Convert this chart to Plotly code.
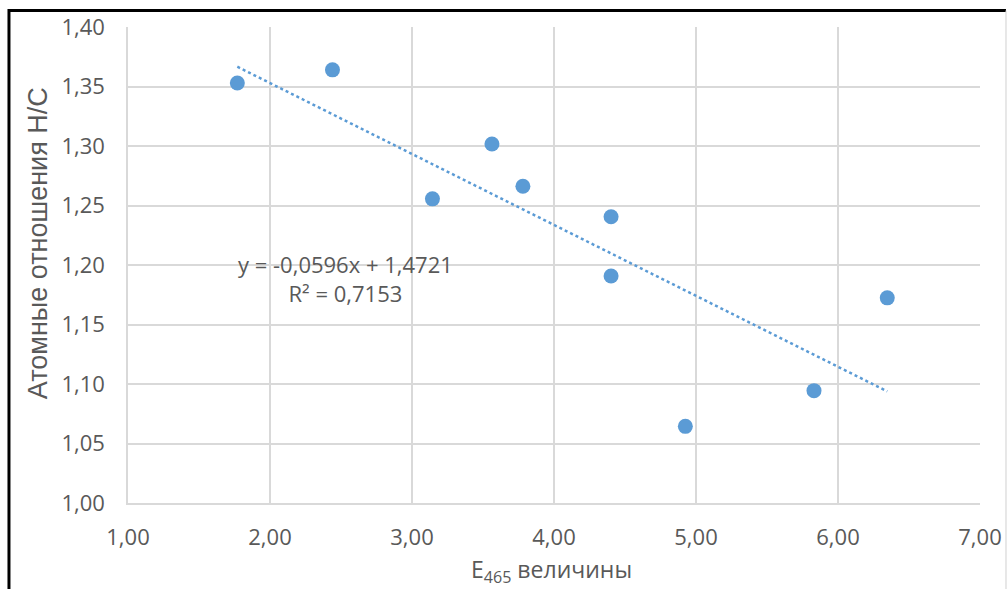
import numpy as np
import plotly.graph_objects as go

# Data
e465 = [1.77, 2.44, 3.144, 3.563, 3.781, 4.402, 4.402, 4.925, 5.831, 6.347]
hc_ratio = [1.353, 1.364, 1.2556, 1.3017, 1.2662, 1.2405, 1.1908, 1.0644, 1.0944, 1.1724]

trend_slope = -0.0596
trend_intercept = 1.4721
r_squared = 0.7153

x_ticks = [1, 2, 3, 4, 5, 6, 7]
y_ticks = [1.00, 1.05, 1.10, 1.15, 1.20, 1.25, 1.30, 1.35, 1.40]

x_title = "E<sub>465</sub> величины"
y_title = "Атомные отношения Н/С"

blue = "#5B9BD5"
grid = "#D9D9D9"
tick_color = "#595959"

trend_x = np.array([min(e465), max(e465)])
trend_y = trend_slope * trend_x + trend_intercept

fig = go.Figure()
fig.add_trace(go.Scatter(
    x=trend_x, y=trend_y, mode="lines",
    line=dict(color=blue, width=2.5, dash="dot"),
    hoverinfo="skip", showlegend=False,
))
fig.add_trace(go.Scatter(
    x=e465, y=hc_ratio, mode="markers",
    marker=dict(color=blue, size=15, line=dict(width=0)),
    showlegend=False,
))

eq_text = ("y = -0,0596x + 1,4721<br>R² = " + f"{r_squared:.4f}".replace(".", ","))
fig.add_annotation(
    x=2.53, y=1.1887, xref="x", yref="y", text=eq_text, showarrow=False,
    font=dict(family="Open Sans", size=22, color=tick_color), align="center",
)

# Axis titles
fig.add_annotation(
    x=-0.1056, y=0.546, xref="paper", yref="paper", text=y_title,
    textangle=-90, showarrow=False, xanchor="center", yanchor="middle",
    font=dict(family="Liberation Sans", size=27, color=tick_color),
)
fig.add_annotation(
    x=0.497, y=-0.141, xref="paper", yref="paper", text=x_title,
    showarrow=False, xanchor="center", yanchor="middle", borderpad=0,
    font=dict(family="Open Sans", size=23, color=tick_color),
)

fig.update_layout(
    width=1007, height=589,
    margin=dict(l=128, r=27, t=27, b=86),
    paper_bgcolor="white", plot_bgcolor="white",
    separators=", ",
    font=dict(family="Open Sans", color=tick_color),
    xaxis=dict(
        range=[1, 7], tickvals=x_ticks, tickformat=".2f", automargin=False,
        showgrid=True, gridcolor=grid, gridwidth=1.5,
        showline=True, linecolor=grid, linewidth=1.5,
        zeroline=False, ticks="", ticklabelstandoff=14,
        tickfont=dict(size=22, color=tick_color),
    ),
    yaxis=dict(
        range=[1.0, 1.4], tickvals=y_ticks, tickformat=".2f", automargin=False,
        showgrid=True, gridcolor=grid, gridwidth=1.5,
        showline=True, linecolor=grid, linewidth=1.5,
        zeroline=False, ticks="", ticklabelstandoff=17,
        tickfont=dict(size=22, color=tick_color),
    ),
)

# Outer frame of the chart image
fig.add_shape(type="line", xref="paper", yref="paper",
              x0=-0.1397, x1=1.0305, y0=1.0347, y1=1.0347,
              line=dict(color="black", width=3))
fig.add_shape(type="line", xref="paper", yref="paper",
              x0=-0.1397, x1=-0.1397, y0=1.0380, y1=-0.20,
              line=dict(color="black", width=3))
fig.add_shape(type="line", xref="paper", yref="paper",
              x0=1.0305, x1=1.0305, y0=1.0347, y1=-0.20,
              line=dict(color="#D0D0D0", width=1))

fig.write_html("out.html")
